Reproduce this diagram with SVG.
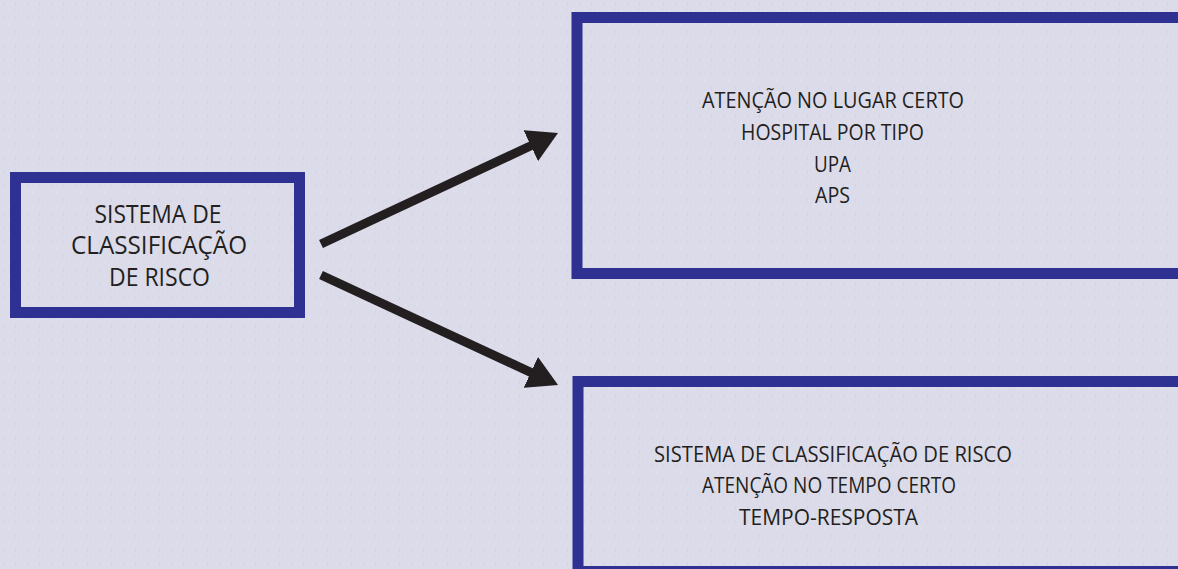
<svg xmlns="http://www.w3.org/2000/svg" width="1178" height="569" viewBox="0 0 1178 569">
  <defs>
    <pattern id="tex" width="12" height="14" patternUnits="userSpaceOnUse">
      <rect width="12" height="14" fill="#dcdbea"/>
      <rect x="3" y="2" width="1" height="4" fill="#cfcee0" opacity="0.6"/>
      <rect x="9" y="8" width="1" height="4" fill="#e6e5f1" opacity="0.7"/>
    </pattern>
    <marker id="head" viewBox="0 0 30 34" refX="10" refY="17" markerWidth="30" markerHeight="34" markerUnits="userSpaceOnUse" orient="auto">
      <path d="M0,0 L30,17 L0,34 Z" fill="#231f20"/>
    </marker>
  </defs>
  <style>
    .box { fill: none; stroke: #2e3192; stroke-width: 11; }
    .lbl { font-family: "Open Sans", "Liberation Sans", sans-serif; fill: #231f20; text-anchor: middle; }
    .big { font-size: 25px; }
    .med { font-size: 22.5px; }
    .arrow { stroke: #231f20; stroke-width: 9; fill: none; marker-end: url(#head); }
  </style>
  <rect width="1178" height="569" fill="url(#tex)"/>

  <g id="node-source">
    <rect class="box" x="15.5" y="177.5" width="284" height="135"/>
    <text class="lbl big" x="158" y="223" textLength="127" lengthAdjust="spacingAndGlyphs">SISTEMA DE</text>
    <text class="lbl big" x="159" y="254" textLength="176" lengthAdjust="spacingAndGlyphs">CLASSIFICAÇÃO</text>
    <text class="lbl big" x="159.5" y="286" textLength="101" lengthAdjust="spacingAndGlyphs">DE RISCO</text>
  </g>

  <g id="node-place">
    <rect class="box" x="577" y="17.5" width="620" height="256"/>
    <text class="lbl med" x="833" y="108" textLength="262" lengthAdjust="spacingAndGlyphs">ATENÇÃO NO LUGAR CERTO</text>
    <text class="lbl med" x="832.5" y="140" textLength="183" lengthAdjust="spacingAndGlyphs">HOSPITAL POR TIPO</text>
    <text class="lbl med" x="832.5" y="172" textLength="37" lengthAdjust="spacingAndGlyphs">UPA</text>
    <text class="lbl med" x="832.5" y="203" textLength="35" lengthAdjust="spacingAndGlyphs">APS</text>
  </g>

  <g id="node-time">
    <rect class="box" x="578" y="381.5" width="620" height="190"/>
    <text class="lbl med" x="833" y="462" textLength="358" lengthAdjust="spacingAndGlyphs">SISTEMA DE CLASSIFICAÇÃO DE RISCO</text>
    <text class="lbl med" x="829" y="493" textLength="254" lengthAdjust="spacingAndGlyphs">ATENÇÃO NO TEMPO CERTO</text>
    <text class="lbl med" x="828.5" y="525" textLength="179" lengthAdjust="spacingAndGlyphs">TEMPO-RESPOSTA</text>
  </g>

  <g id="connectors">
    <line class="arrow" x1="321" y1="244" x2="539.9" y2="141.5"/>
    <line class="arrow" x1="321" y1="275" x2="539.9" y2="376.6"/>
  </g>
</svg>
